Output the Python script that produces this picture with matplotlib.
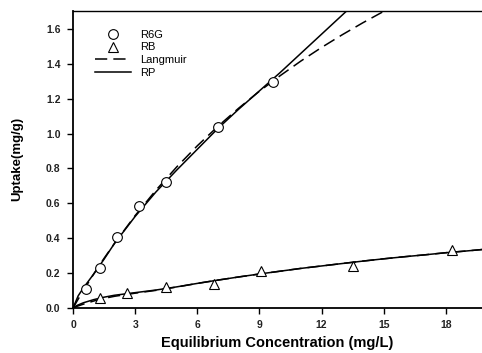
import matplotlib
matplotlib.use("Agg")
import matplotlib.pyplot as plt

plt.rcParams['font.family'] = ['Liberation Sans', 'DejaVu Sans']

# Measured uptake data
r6g_c = [0.65, 1.3, 2.1, 3.2, 4.5, 7.0, 9.65]
r6g_q = [0.11, 0.23, 0.41, 0.585, 0.72, 1.037, 1.295]
rb_c = [1.3, 2.6, 4.5, 6.8, 9.1, 13.5, 18.3]
rb_q = [0.057, 0.086, 0.12, 0.137, 0.212, 0.24, 0.332]

# Fitted isotherm curves (R6G)
r6g_rp_c = [0, 0.25, 0.5, 1, 1.5, 2, 3, 4, 5, 6, 7, 8, 9, 10, 11, 12, 13, 13.5]
r6g_rp_q = [0, 0.07, 0.115, 0.195, 0.28, 0.37, 0.525, 0.665, 0.79, 0.91,
            1.03, 1.14, 1.245, 1.35, 1.46, 1.57, 1.68, 1.735]
r6g_lg_c = [0, 0.25, 0.5, 1, 1.5, 2, 3, 4, 5, 6, 7, 8, 9, 10, 11, 12, 13,
            14, 15, 15.5]
r6g_lg_q = [0, 0.051, 0.1, 0.195, 0.285, 0.37, 0.53, 0.675, 0.808, 0.93,
            1.042, 1.146, 1.243, 1.332, 1.416, 1.494, 1.567, 1.636, 1.701, 1.731]

# Fitted isotherm curves (RB)
rb_rp_c = [0, 0.2, 0.5, 1, 1.5, 2, 3, 4, 5, 6, 7, 8, 9, 10, 11, 12, 13, 14,
           15, 16, 17, 18, 19, 20]
rb_rp_q = [0, 0.015, 0.03, 0.048, 0.062, 0.073, 0.088, 0.103, 0.121, 0.141,
           0.16, 0.178, 0.195, 0.211, 0.227, 0.241, 0.255, 0.269, 0.282,
           0.294, 0.305, 0.317, 0.327, 0.338]
rb_lg_c = [0, 0.2, 0.5, 1, 1.5, 2, 3, 4, 5, 6, 7, 8, 9, 10, 11, 12, 13, 14,
           15, 16, 17, 18, 19, 20]
rb_lg_q = [0, 0.01, 0.022, 0.04, 0.055, 0.067, 0.085, 0.101, 0.12, 0.141,
           0.16, 0.178, 0.195, 0.211, 0.227, 0.241, 0.255, 0.269, 0.282,
           0.294, 0.305, 0.317, 0.327, 0.338]

x_ticks = [0, 3, 6, 9, 12, 15, 18]
y_ticks = [0.0, 0.2, 0.4, 0.6, 0.8, 1.0, 1.2, 1.4, 1.6]

fig = plt.figure(figsize=(4.82, 3.53), dpi=100)
ax = fig.add_axes([0.1515, 0.1275, 0.8485, 0.8422])

ax.plot(r6g_c, r6g_q, linestyle='none', marker='o', markersize=7,
        markerfacecolor='white', markeredgecolor='black', markeredgewidth=0.8,
        label='R6G', zorder=3)
ax.plot(rb_c, rb_q, linestyle='none', marker='^', markersize=7,
        markerfacecolor='white', markeredgecolor='black', markeredgewidth=0.8,
        label='RB', zorder=3)
ax.plot(r6g_lg_c, r6g_lg_q, color='black', lw=1.1, dashes=(8, 4),
        label='Langmuir', zorder=2)
ax.plot(r6g_rp_c, r6g_rp_q, color='black', lw=1.1, label='RP', zorder=2)
ax.plot(rb_lg_c, rb_lg_q, color='black', lw=1.1, dashes=(8, 4), zorder=2)
ax.plot(rb_rp_c, rb_rp_q, color='black', lw=1.1, zorder=2)

ax.set_xlim(0, 19.75)
ax.set_ylim(0, 1.705)
ax.set_xticks(x_ticks)
ax.set_xticklabels([str(t) for t in x_ticks])
ax.set_yticks(y_ticks)
ax.set_yticklabels([f"{t:.1f}" for t in y_ticks])
ax.tick_params(direction='out', length=4, width=1, labelsize=7.5, pad=5)
for lbl in ax.get_xticklabels() + ax.get_yticklabels():
    lbl.set_fontweight('bold')
    lbl.set_color('#222222')

ax.spines['right'].set_visible(False)
ax.spines['left'].set_linewidth(1.3)
ax.spines['bottom'].set_linewidth(1.3)
ax.spines['top'].set_linewidth(1.0)

ax.set_xlabel('Equilibrium Concentration (mg/L)', fontsize=10.5,
              fontweight='bold', labelpad=4)
ax.set_ylabel('Uptake(mg/g)', fontsize=9.5, fontweight='bold', labelpad=16)

leg = ax.legend(loc='upper left', bbox_to_anchor=(0.03, 0.97), frameon=False,
                fontsize=8, handlelength=3.2, handletextpad=0.8,
                labelspacing=0.25)

fig.savefig('out.png', dpi=100)
